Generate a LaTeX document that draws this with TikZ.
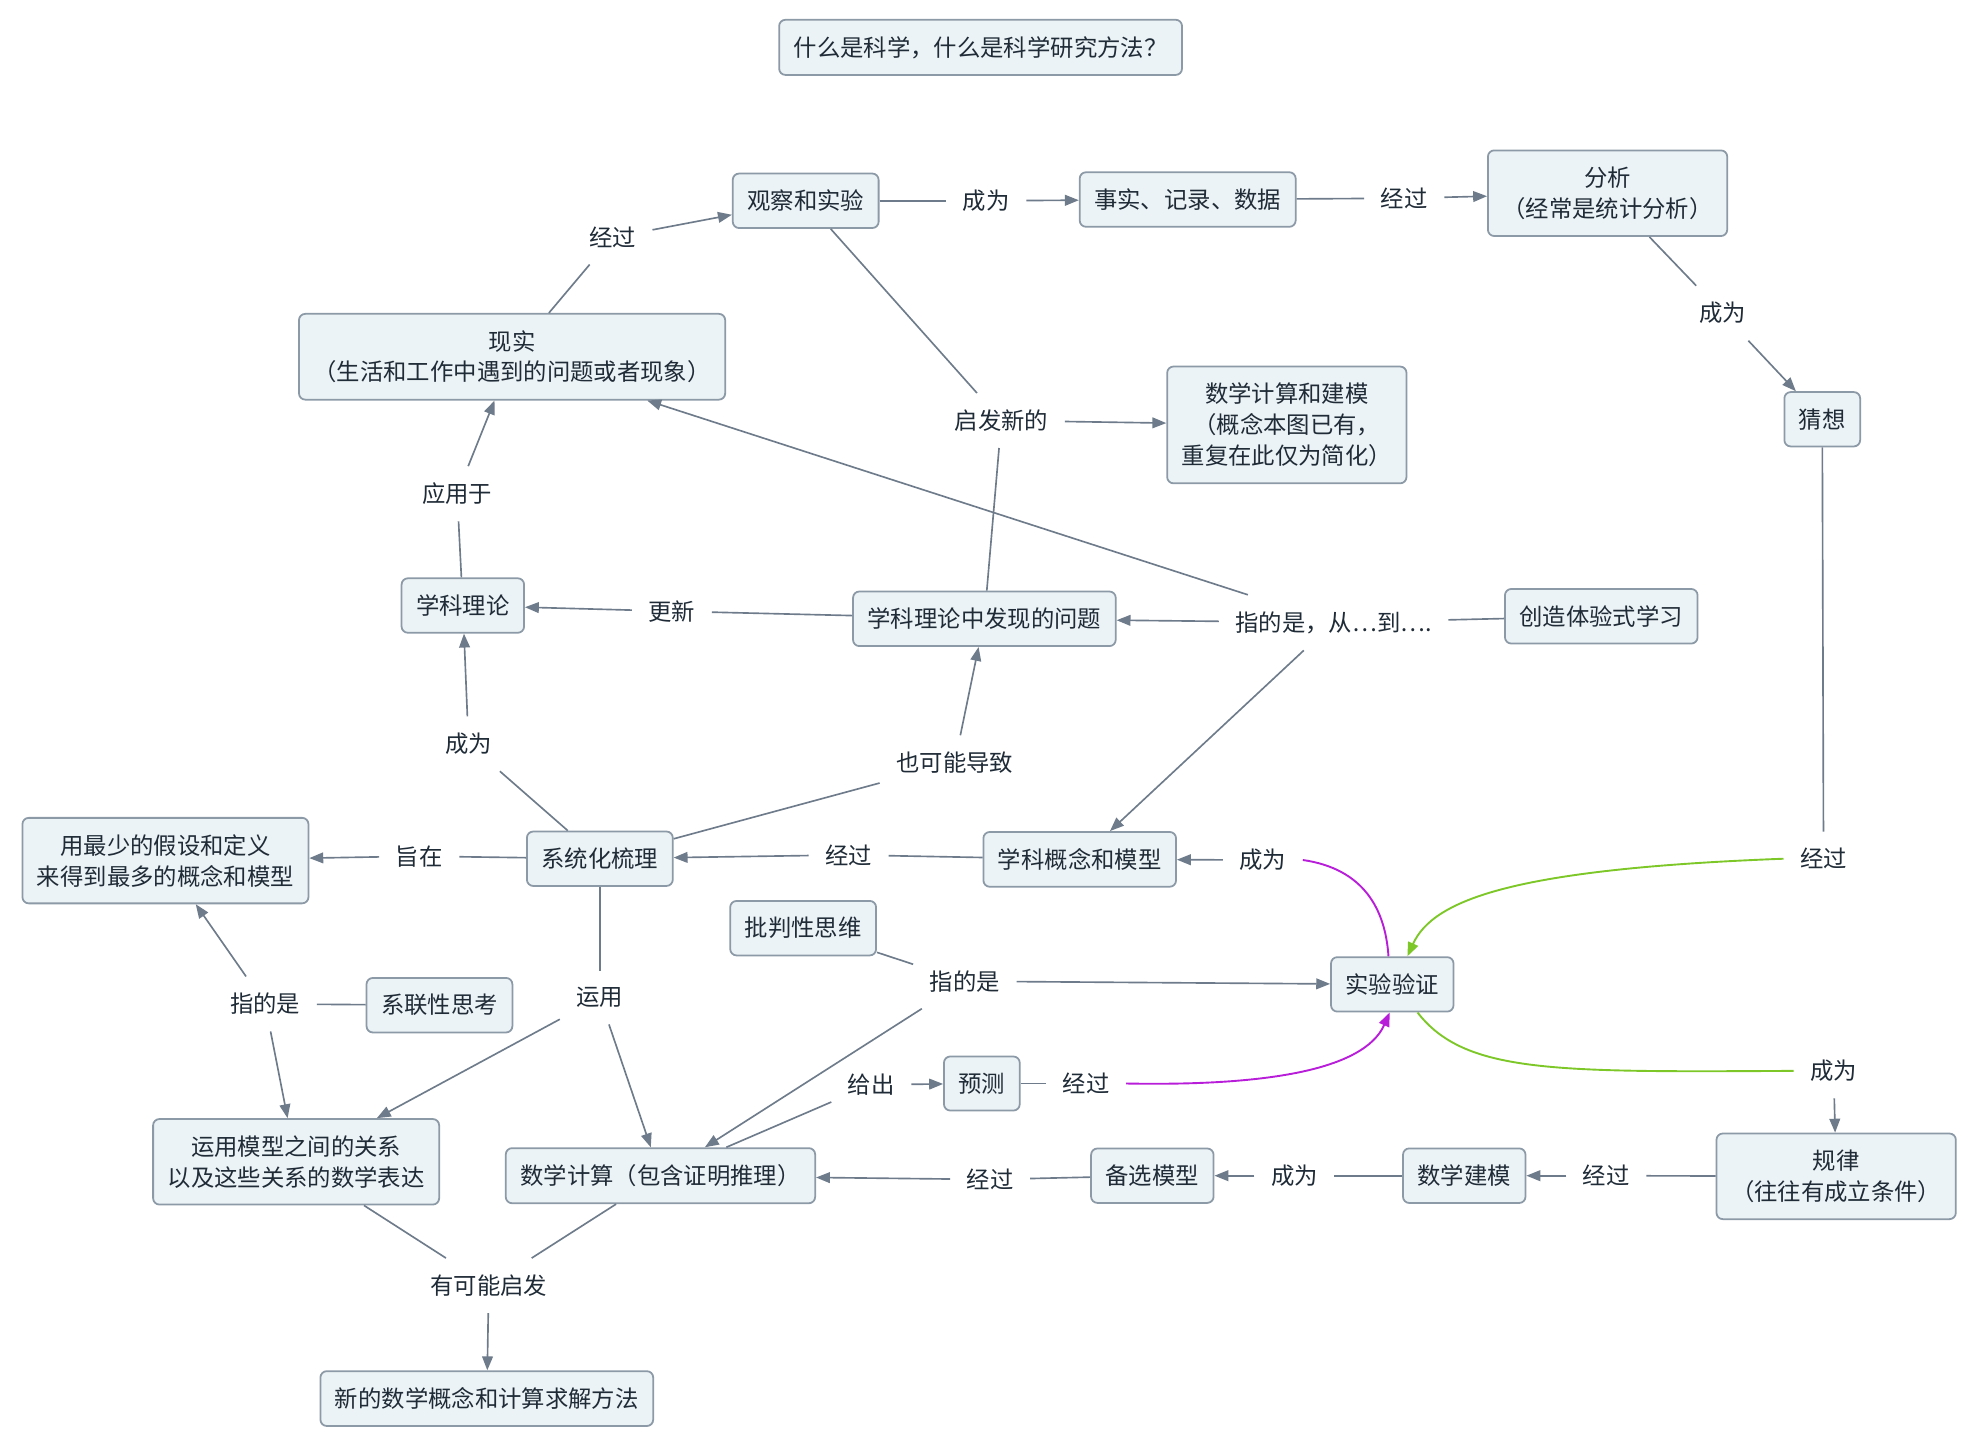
\documentclass[tikz,border=0pt]{standalone}
\usepackage{fontspec}
\setmainfont{Noto Sans CJK SC}
\usetikzlibrary{arrows.meta}
\definecolor{boxfill}{HTML}{ECF3F6}
\definecolor{boxline}{HTML}{8C99A6}
\definecolor{conn}{HTML}{6E7B8B}
\definecolor{txt}{HTML}{1F2B37}
\definecolor{grn}{HTML}{7DC828}
\definecolor{prp}{HTML}{B81ED9}
\begin{document}
\begin{tikzpicture}[x=1pt,y=-1pt,
  box/.style={draw=boxline, fill=boxfill, line width=1.4pt, rounded corners=5pt,
    inner xsep=11.5pt, inner ysep=13pt, align=center, text=txt,
    font=\fontsize{18.5}{24.5}\selectfont},
  lbl/.style={inner xsep=13pt, inner ysep=13pt, text=txt, font=\fontsize{18.5}{24}\selectfont},
  ln/.style={draw=conn, line width=1.3pt},
  ar/.style={ln, -{Triangle[length=11pt,width=8.5pt]}},
  garr/.style={draw=grn, line width=1.5pt, -{Triangle[length=11pt,width=8.5pt]}},
  gln/.style={draw=grn, line width=1.5pt},
  parr/.style={draw=prp, line width=1.5pt, -{Triangle[length=11pt,width=8.5pt]}},
  pln/.style={draw=prp, line width=1.5pt},
]
\useasboundingbox (0,0) rectangle (1560,1142);
\fill[white] (0,0) rectangle (1560,1142);

% boxes
\node[box] (title) at (776.5,37.5) {什么是科学，什么是科学研究方法？};
\node[box] (obs) at (638,159) {观察和实验};
\node[box] (facts) at (940.5,158) {事实、记录、数据};
\node[box] (analysis) at (1273,153) {分析\\（经常是统计分析）};
\node[box] (guess) at (1443,332) {猜想};
\node[box] (reality) at (405.5,282.5) {现实\\（生活和工作中遇到的问题或者现象）};
\node[box] (mathcomp) at (1019,336.5) {数学计算和建模\\（概念本图已有，\\重复在此仅为简化）};
\node[box] (theory) at (366.5,479.5) {学科理论};
\node[box] (problem) at (779.5,490) {学科理论中发现的问题};
\node[box] (create) at (1268,488) {创造体验式学习};
\node[box] (minimal) at (131,681.5) {用最少的假设和定义\\来得到最多的概念和模型};
\node[box] (sys) at (475,680) {系统化梳理};
\node[box] (concept) at (855,680.5) {学科概念和模型};
\node[box] (critical) at (636,735) {批判性思维};
\node[box] (exper) at (1102.5,779.5) {实验验证};
\node[box] (relthink) at (348,796) {系联性思考};
\node[box] (relmath) at (234.5,920) {运用模型之间的关系\\以及这些关系的数学表达};
\node[box] (predict) at (777.5,858) {预测};
\node[box] (calc) at (523,931) {数学计算（包含证明推理）};
\node[box] (alt) at (912.5,931) {备选模型};
\node[box] (model) at (1159.5,931) {数学建模};
\node[box] (law) at (1454,931.5) {规律\\（往往有成立条件）};
\node[box] (newmath) at (385.5,1107.5) {新的数学概念和计算求解方法};

% linking labels
\node[lbl] (l1) at (485,188) {经过};
\node[lbl] (l2) at (781,159) {成为};
\node[lbl] (l3) at (1112,157) {经过};
\node[lbl] (l4) at (1364,248) {成为};
\node[lbl] (l5) at (793,333) {启发新的};
\node[lbl] (l6) at (362,391) {应用于};
\node[lbl] (l7) at (532,484) {更新};
\node[lbl] (l8) at (1056,493) {指的是，从…到….};
\node[lbl] (l9) at (371,589) {成为};
\node[lbl] (l10) at (756,604) {也可能导致};
\node[lbl] (l11) at (332,678) {旨在};
\node[lbl] (l12) at (672,677) {经过};
\node[lbl] (l13) at (1000,681) {成为};
\node[lbl] (l14) at (764,777) {指的是};
\node[lbl] (l15) at (210,795) {指的是};
\node[lbl] (l16) at (475,790) {运用};
\node[lbl] (l17) at (690,859) {给出};
\node[lbl] (l18) at (860,858) {经过};
\node[lbl] (l19) at (1444,680) {经过};
\node[lbl] (l20) at (1452,848) {成为};
\node[lbl] (l21) at (1272,931) {经过};
\node[lbl] (l22) at (1025,931) {成为};
\node[lbl] (l23) at (784,934) {经过};
\node[lbl] (l24) at (387,1018) {有可能启发};

% connectors
\draw[ln] (reality) -- (l1); \draw[ar] (l1) -- (obs);
\draw[ln] (obs) -- (l2); \draw[ar] (l2) -- (facts);
\draw[ln] (facts) -- (l3); \draw[ar] (l3) -- (analysis);
\draw[ln] (analysis) -- (l4); \draw[ar] (l4) -- (guess);
\draw[ln] (obs) -- (l5); \draw[ln] (problem) -- (l5); \draw[ar] (l5) -- (mathcomp);
\draw[ln] (theory) -- (l6); \draw[ar] (l6) -- (reality);
\draw[ln] (problem) -- (l7); \draw[ar] (l7) -- (theory);
\draw[ln] (create) -- (l8); \draw[ar] (l8) -- (problem);
\draw[ar] (l8) -- (reality); \draw[ar] (l8) -- (concept);
\draw[ln] (sys) -- (l9); \draw[ar] (l9) -- (theory);
\draw[ln] (sys) -- (l10); \draw[ar] (l10) -- (problem);
\draw[ln] (sys) -- (l11); \draw[ar] (l11) -- (minimal);
\draw[ln] (concept) -- (l12); \draw[ar] (l12) -- (sys);
\draw[pln] ([xshift=-3pt]exper.north) .. controls (1097,720) and (1080,688) .. (l13.east);
\draw[ar] (l13) -- (concept);
\draw[ln] (critical) -- (l14); \draw[ar] (l14) -- (exper); \draw[ar] (l14) -- (calc);
\draw[ln] (relthink) -- (l15); \draw[ar] (l15) -- (minimal); \draw[ar] (l15) -- (relmath);
\draw[ln] (sys) -- (l16); \draw[ar] (l16) -- (relmath); \draw[ar] (l16) -- (calc);
\draw[ln] (calc) -- (l17); \draw[ar] (l17) -- (predict);
\draw[ln] (predict) -- (l18);
\draw[parr] (l18.east) .. controls (1000,860) and (1080,848) .. ([xshift=-2pt]exper.south);
\draw[ln] (guess) -- (l19);
\draw[garr] (l19.west) .. controls (1200,688) and (1135,712) .. ([xshift=12pt]exper.north);
\draw[gln] ([xshift=20pt]exper.south) .. controls (1160,850) and (1230,849) .. (l20.west);
\draw[ar] (l20) -- (law);
\draw[ln] (law) -- (l21); \draw[ar] (l21) -- (model);
\draw[ln] (model) -- (l22); \draw[ar] (l22) -- (alt);
\draw[ln] (alt) -- (l23); \draw[ar] (l23) -- (calc);
\draw[ln] (relmath) -- (l24); \draw[ln] (calc) -- (l24); \draw[ar] (l24) -- (newmath);
\end{tikzpicture}
\end{document}
